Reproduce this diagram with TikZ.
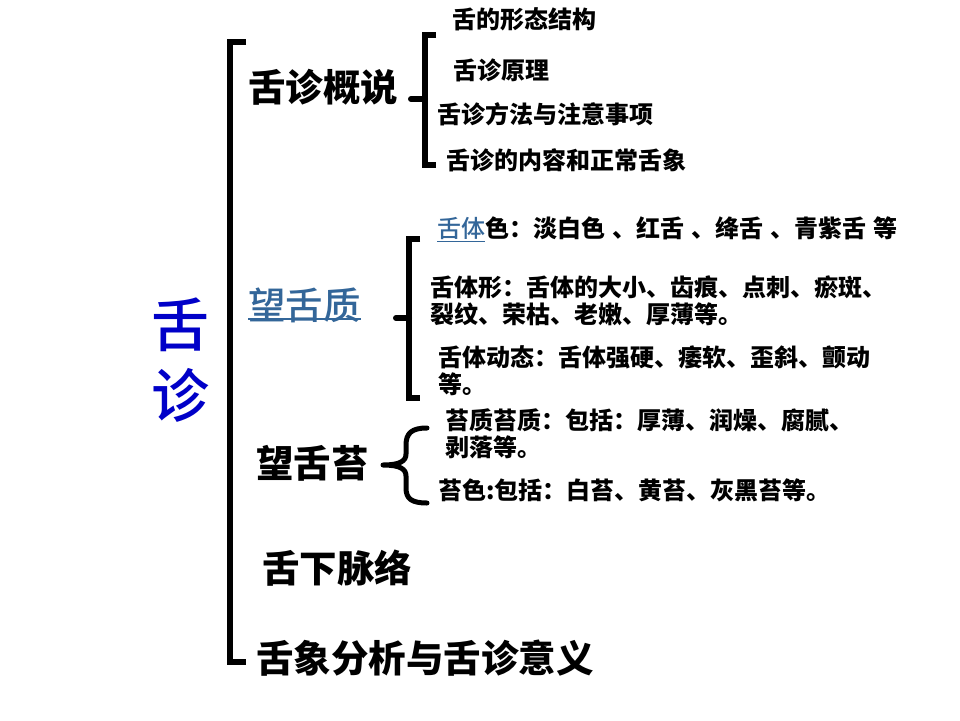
\documentclass[tikz,border=0pt]{standalone}
\usepackage{fontspec}
\newfontfamily\cjk{Noto Sans CJK SC}
\newfontfamily\cjkmed{Noto Sans CJK SC Medium}
\definecolor{titleblue}{RGB}{0,0,200}
\definecolor{linkblue}{RGB}{51,102,153}
\newcommand{\gap}{\hspace{0.3em}}
\begin{document}
\begin{tikzpicture}[x=1pt,y=-1pt,
  bigtext/.style={font=\cjk\bfseries\fontsize{37.5}{40}\selectfont, anchor=west, inner sep=0pt},
  smalltext/.style={font=\cjk\bfseries\fontsize{24}{27}\selectfont, anchor=west, inner sep=0pt, align=left},
  titletext/.style={font=\cjkmed\fontsize{58}{60}\selectfont, text=titleblue, inner sep=0pt},
  brk/.style={line width=6pt, line join=miter, line cap=butt},
  knob/.style={line width=6pt, line cap=round}]
\useasboundingbox (0,0) rectangle (960,720);
\fill[white] (0,0) rectangle (960,720);

% title
\node[titletext] (t1) at (180,325) {舌};
\node[titletext] (t2) at (180,395) {诊};

% main bracket
\coordinate (mtop) at (246,42);
\coordinate (mbot) at (246,662);
\draw[brk] (mtop) -- (230,42) -- (230,662) -- (mbot);

% level 1
\node[bigtext] (gs) at (248,87) {舌诊概说};
\node[bigtext, font=\cjkmed\fontsize{37.5}{40}\selectfont, text=linkblue] (wz) at (248,305) {望舌质};
\draw[linkblue, line width=1.6pt] ([yshift=4pt]wz.south west) -- ([yshift=4pt]wz.south east);
\node[bigtext] (wt) at (256,463) {望舌苔};
\node[bigtext] (mx) at (262,568) {舌下脉络};
\node[bigtext] (fx) at (256,658) {舌象分析与舌诊意义};

% bracket for 舌诊概说
\draw[brk] (436,35) -- (425,35) -- (425,165) -- (436,165);
\coordinate (k1) at (411,99);
\draw[knob] (k1) -- (425,99);
\node[smalltext] (a1) at (452,19) {舌的形态结构};
\node[smalltext] (a2) at (453,70) {舌诊原理};
\node[smalltext] (a3) at (437,114) {舌诊方法与注意事项};
\node[smalltext] (a4) at (446,160) {舌诊的内容和正常舌象};

% bracket for 望舌质
\draw[brk] (420,239) -- (409,239) -- (409,398) -- (420,398);
\coordinate (k2) at (396,318);
\draw[knob] (k2) -- (409,318);
\node[smalltext] (b1) at (437,229) {\textcolor{linkblue}{\cjkmed\mdseries\underline{舌体}}色：淡白色\gap、红舌\gap、绛舌\gap、青紫舌\gap 等};
\node[smalltext] (b2) at (430,301) {舌体形：舌体的大小、齿痕、点刺、瘀斑、\\裂纹、荣枯、老嫩、厚薄等。};
\node[smalltext] (b3) at (438,371) {舌体动态：舌体强硬、痿软、歪斜、颤动\\等。};

% curly brace for 望舌苔
\draw[line width=5pt, line cap=round, line join=round]
  (427,428) .. controls (412,428) and (406,433) .. (406,445) -- (406,454)
  .. controls (406,461) and (400,465) .. (383,465)
  .. controls (400,465) and (406,469) .. (406,476) -- (406,488)
  .. controls (406,499) and (412,503) .. (427,503);
\node[smalltext] (c1) at (445,434) {苔质苔质：包括：厚薄、润燥、腐腻、\\剥落等。};
\node[smalltext] (c2) at (438,490) {苔色:包括：白苔、黄苔、灰黑苔等。};
\end{tikzpicture}
\end{document}
